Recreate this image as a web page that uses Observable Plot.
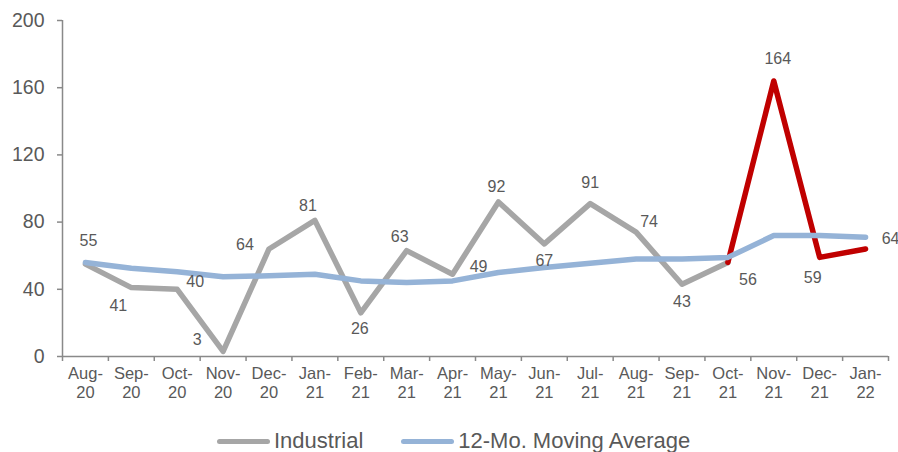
<!DOCTYPE html>
<html>
<head>
<meta charset="utf-8">
<script src="https://cdn.jsdelivr.net/npm/d3@7"></script>
<script src="https://cdn.jsdelivr.net/npm/@observablehq/plot@0.6"></script>
<style>
  html, body { margin: 0; padding: 0; background: #fff; }
  body { width: 898px; height: 452px; overflow: hidden; font-family: "Liberation Sans", Arial, sans-serif; }
  #legend { display: flex; align-items: center; height: 26px; margin-top: 8px; padding-left: 217px; color: #595959; font-size: 22px; }
  #legend .sw { width: 53px; height: 5px; border-radius: 3px; margin-right: 4px; }
  #legend .item { display: flex; align-items: center; margin-right: 38px; }
</style>
</head>
<body>
<div id="chart"></div>
<div id="legend">
  <div class="item"><div class="sw" style="background:#A6A6A6"></div><span>Industrial</span></div>
  <div class="item"><div class="sw" style="background:#95B3D7"></div><span>12-Mo. Moving Average</span></div>
</div>
<script>
const months = ["Aug-20","Sep-20","Oct-20","Nov-20","Dec-20","Jan-21","Feb-21","Mar-21","Apr-21","May-21","Jun-21","Jul-21","Aug-21","Sep-21","Oct-21","Nov-21","Dec-21","Jan-22"];
const industrial = [55, 41, 40, 3, 64, 81, 26, 63, 49, 92, 67, 91, 74, 43, 56, 164, 59, 64];
const movingAvg = [56, 52.5, 50.5, 47.5, 48, 49, 45, 44, 45, 50, 53, 55.5, 58, 58, 59, 72, 72, 71];
const yTicks = [0, 40, 80, 120, 160, 200];
const highlightFrom = 14; // Oct-21 onward drawn in red

// label offsets (styling): [dx, dy] per data label
const labelOffsets = [[3,-23],[-13,18],[18,-7],[-26,-12],[-24,-4],[-7,-15],[-1,16],[-7,-14],[26,-7],[-2,-15],[0,17],[0,-21],[13,-10],[0,18],[20,17],[4,-22],[-7,20],[25,-10]];

const W = 898, H = 420, ML = 62, MR = 10, MT = 20, MB = 64;
const bw = (W - ML - MR) / months.length;

const rows = months.map((m, i) => ({month: m, value: industrial[i], avg: movingAvg[i], i}));
const grayRows = rows.slice(0, highlightFrom + 1);
const redRows = rows.slice(highlightFrom);

const axisColor = "#898989";
const textColor = "#595959";

const labelMarks = rows.map((r, i) => Plot.text([r], {
  x: "month", y: "value", text: d => String(d.value),
  dx: labelOffsets[i][0], dy: labelOffsets[i][1],
  fill: textColor, fontSize: 16
}));

const plot = Plot.plot({
  width: W, height: H,
  marginLeft: ML, marginRight: MR, marginTop: MT, marginBottom: MB,
  style: {fontFamily: '"Liberation Sans", Arial, sans-serif', background: "#fff"},
  x: {type: "band", domain: months, padding: 0, round: false},
  y: {domain: [0, 200]},
  marks: [
    Plot.axisY({ticks: yTicks, tickSize: 5, tickPadding: 13, fontSize: 19.5, stroke: axisColor, fill: textColor, strokeWidth: 1.5, label: null}),
    Plot.ruleX([months[0]], {y1: 0, y2: 200, dx: -bw / 2, stroke: axisColor, strokeWidth: 1.5}),
    Plot.ruleY([0], {stroke: axisColor, strokeWidth: 1.5}),
    Plot.axisX({tickSize: 5, tickFormat: () => "", dx: -bw / 2, stroke: axisColor, strokeWidth: 1.5, label: null}),
    Plot.axisX({ticks: [months[months.length - 1]], tickSize: 5, tickFormat: () => "", dx: bw / 2, stroke: axisColor, strokeWidth: 1.5, label: null}),
    Plot.axisX({tickSize: 0, tickPadding: 9, tickFormat: d => d.replace("-", "-\n"), fontSize: 16.5, lineHeight: 1.15, fill: textColor, label: null}),
    Plot.line(grayRows, {x: "month", y: "value", stroke: "#A6A6A6", strokeWidth: 5.5}),
    Plot.line(redRows, {x: "month", y: "value", stroke: "#C00000", strokeWidth: 5.5}),
    Plot.line(rows, {x: "month", y: "avg", stroke: "#95B3D7", strokeWidth: 5.5}),
    ...labelMarks
  ]
});
document.getElementById("chart").appendChild(plot);
</script>
</body>
</html>
